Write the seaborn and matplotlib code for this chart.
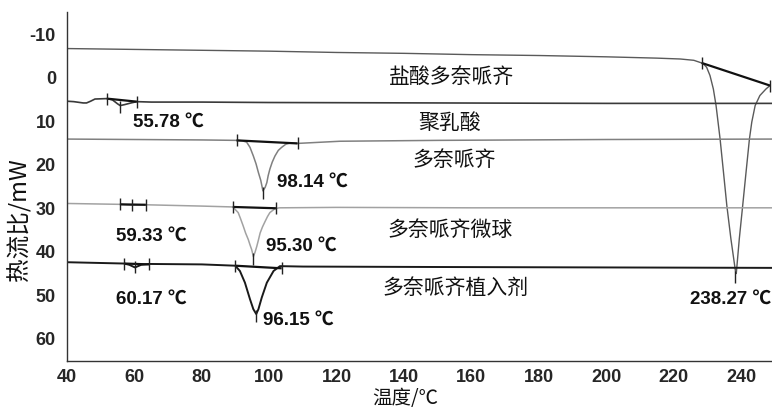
import matplotlib
matplotlib.use("Agg")
import matplotlib.pyplot as plt
import seaborn as sns
import pandas as pd

# ---- DSC curves (temperature in °C, heat flow in mW; axis is inverted) ----
hcl_x = [40, 60, 80, 100, 120, 140, 160, 180, 200, 215, 222, 226, 228.3, 228.8, 229.8, 230.8,
         231.8, 232.6, 233.8, 234.8, 235.8, 237.0, 238.4, 238.6, 239.5, 240.5, 241.5, 242.5,
         243.2, 244.2, 245.6, 247.4, 248.6]
hcl_y = [-6.5, -6.3, -6.1, -5.9, -5.6, -5.4, -5.1, -4.9, -4.6, -4.3, -4.1, -3.8, -3.2, -3.0, -2.2, -0.3,
         2.8, 6.6, 14.3, 21.9, 29.6, 37.2, 44.9, 45.2, 37.2, 29.6, 21.9, 14.3,
         10.4, 6.6, 4.3, 2.8, 2.0]

pla_x = [40, 42, 44.8, 45.8, 47, 48.3, 51.8, 53.5, 55.0, 55.78, 57.0, 59.0, 60.7, 65, 80, 100, 150, 200, 249.2]
pla_y = [5.6, 5.7, 6.0, 6.0, 5.6, 5.1, 5.0, 5.3, 6.2, 6.6, 6.4, 6.0, 5.7, 5.8, 5.8, 5.9, 6.0, 6.1, 6.1]

dnp_x = [40, 60, 80, 90.3, 92.0, 93.3, 94.3, 95.3, 96.1, 96.8, 97.5, 98.14, 98.8, 99.3, 99.7, 100.2,
         100.9, 101.7, 102.7, 103.7, 104.9, 106.2, 108.4, 121, 150, 200, 249.2]
dnp_y = [14.3, 14.4, 14.5, 14.6, 14.7, 15.0, 16.2, 18.2, 20.0, 22.0, 23.8, 26.2, 25.4, 24.3, 22.7, 21.2,
         19.6, 18.2, 16.9, 16.2, 15.5, 15.2, 15.3, 14.8, 14.6, 14.4, 14.3]

msp_x = [40, 55.7, 59.33, 63.4, 80, 89.2, 90.8, 91.5, 92.3, 93.0, 93.8, 94.3, 94.8, 95.3, 95.8, 96.3,
         96.8, 97.3, 98.0, 98.8, 99.5, 100.2, 101.7, 103.0, 120, 160, 200, 249.2]
msp_y = [29.1, 29.3, 29.5, 29.4, 29.7, 29.9, 31.2, 32.6, 34.3, 35.9, 37.4, 38.6, 39.7, 41.3, 40.3, 39.0,
         37.5, 35.9, 34.5, 33.2, 32.1, 31.2, 30.3, 30.1, 30.0, 30.1, 30.1, 30.1]

imp_x = [40, 56.9, 58.5, 60.17, 62.0, 64.4, 80, 89.9, 91.3, 92.8, 94.3, 95.3, 96.15, 96.8, 97.8,
         99.3, 101.3, 103.2, 110, 150, 200, 249.2]
imp_y = [42.6, 42.9, 43.2, 43.8, 43.2, 43.0, 43.1, 43.4, 44.6, 47.3, 51.1, 53.4, 54.5, 53.4, 50.7,
         47.3, 44.6, 43.5, 43.6, 43.7, 43.8, 43.9]

# integration baselines: (x0, y0, x1, y1)
baselines = [
    (228.3, -3.2, 248.6, 2.0),
    (51.8, 5.0, 60.7, 5.7),
    (90.3, 14.6, 108.4, 15.3),
    (55.7, 29.3, 63.4, 29.4),
    (89.2, 29.9, 102.0, 30.2),
    (56.9, 42.9, 64.4, 43.1),
    (89.9, 43.4, 103.7, 44.0),
]
# limit / peak tick marks
tick_x = [228.3, 248.6, 238.27, 51.8, 60.7, 55.78, 90.3, 108.4, 98.14, 55.7, 59.33, 63.4,
          89.2, 102.0, 95.30, 56.9, 60.17, 64.4, 89.9, 103.7, 96.15]
tick_y = [-3.2, 2.0, 46.0, 5.0, 5.7, 6.9, 14.6, 15.3, 26.8, 29.3, 29.4, 29.4,
          29.9, 30.2, 41.9, 42.9, 43.6, 43.1, 43.4, 44.0, 55.0]

# peak temperature labels
peak_text = ["55.78 ℃", "98.14 ℃", "59.33 ℃", "95.30 ℃", "60.17 ℃", "96.15 ℃", "238.27 ℃"]
peak_tx = [59.5, 102.3, 54.5, 99.0, 54.5, 98.3, 224.9]
peak_ty = [10.2, 24.0, 36.3, 38.6, 50.8, 55.6, 50.9]

# sample names
names = ["盐酸多奈哌齐", "聚乳酸", "多奈哌齐", "多奈哌齐微球", "多奈哌齐植入剂"]
name_x = [154.0, 153.6, 155.0, 153.8, 155.4]
name_y = [-0.3, 10.3, 18.9, 34.9, 48.3]

x_ticks = [40, 60, 80, 100, 120, 140, 160, 180, 200, 220, 240]
y_ticks = [-10, 0, 10, 20, 30, 40, 50, 60]

sns.set_theme(style="white")
plt.rcParams["font.family"] = ["Noto Sans CJK SC", "DejaVu Sans"]

fig = plt.figure(figsize=(7.72, 4.10), dpi=100)
ax = fig.add_axes([67 / 772, 48 / 410, 705 / 772, 349 / 410])

curves = [
    (hcl_x, hcl_y, "#5a5a5a", 1.0),
    (pla_x, pla_y, "#3a3a3a", 1.2),
    (dnp_x, dnp_y, "#808080", 1.1),
    (msp_x, msp_y, "#a2a2a2", 1.1),
    (imp_x, imp_y, "#1a1a1a", 1.4),
]
for xs, ys, col, lw in curves:
    df = pd.DataFrame({"T": xs, "HF": ys})
    sns.lineplot(data=df, x="T", y="HF", ax=ax, color=col, lw=lw, sort=False, estimator=None)

for x0, y0, x1, y1 in baselines:
    ax.plot([x0, x1], [y0, y1], color="#111111", lw=1.6, solid_capstyle="butt")

ax.scatter(tick_x, tick_y, marker="|", s=70, color="#222222", linewidths=1.0, zorder=4)

for t, tx, ty in zip(peak_text, peak_tx, peak_ty):
    ax.text(tx, ty, t, ha="left", va="center", fontsize=13.5, fontweight="bold",
            family=["Liberation Sans", "Noto Sans CJK SC"], color="#111111")

for n, nx, ny in zip(names, name_x, name_y):
    ax.text(nx, ny, n, ha="center", va="center", fontsize=15, color="#111111",
            family=["Noto Sans CJK SC", "DejaVu Sans"])

ax.set_xlim(40, 249.2)
ax.set_ylim(65.3, -14.9)
ax.set_xticks(x_ticks)
ax.set_yticks(y_ticks)
ax.set_xticklabels([str(v) for v in x_ticks], fontsize=13, fontweight="bold", family="Liberation Sans")
ax.set_yticklabels([str(v) for v in y_ticks], fontsize=13, fontweight="bold", family="Liberation Sans")
ax.tick_params(axis="x", direction="in", length=3, width=1, color="#333333", pad=5)
ax.tick_params(axis="y", direction="out", length=3, width=1, color="#333333", pad=5)

for side in ["top", "right"]:
    ax.spines[side].set_visible(False)
for side in ["left", "bottom"]:
    ax.spines[side].set_color("#333333")
    ax.spines[side].set_linewidth(1.0)

ax.set_xlabel("")
ax.set_ylabel("")
fig.text(405 / 772, 1 - 399 / 410, "温度/℃", ha="center", va="center", fontsize=14,
         family=["Noto Sans CJK SC", "DejaVu Sans"], color="#111111")
fig.text(19 / 772, 1 - 220 / 410, "热流比/mW", ha="center", va="center", rotation=90,
         fontsize=17, family=["Noto Sans CJK SC", "DejaVu Sans"], color="#111111")

fig.savefig("out.png", dpi=100)
